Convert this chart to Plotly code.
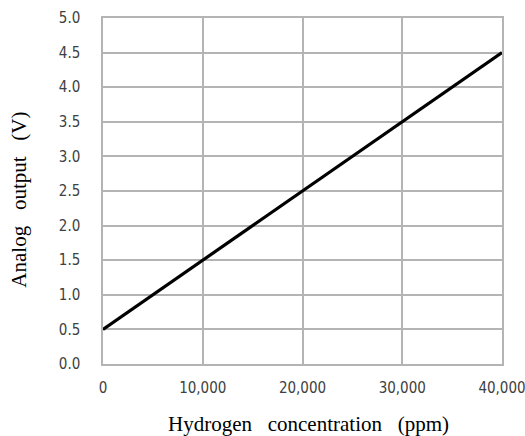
import plotly.graph_objects as go

concentration = [0, 40000]
voltage = [0.5, 4.5]
x_ticks = [0, 10000, 20000, 30000, 40000]
x_labels = ["0", "10,000", "20,000", "30,000", "40,000"]
y_ticks = [i * 0.5 for i in range(11)]
y_labels = ["%.1f" % v for v in y_ticks]
x_title = "Hydrogen&nbsp;&nbsp;&nbsp;concentration&nbsp;&nbsp;&nbsp;(ppm)"
y_title = "Analog&nbsp;&nbsp;&nbsp;output&nbsp;&nbsp;&nbsp;(V)"

tick_font = dict(family="DejaVu Sans Condensed, Liberation Sans Narrow, sans-serif", size=15, color="#404040")
title_font = dict(family="Liberation Serif, Times New Roman, serif", size=21, color="black")

fig = go.Figure(go.Scatter(x=concentration, y=voltage, mode="lines",
                           line=dict(color="black", width=3.2), showlegend=False))

fig.update_layout(
    width=525, height=436,
    margin=dict(l=103, r=23, t=18, b=72, autoexpand=False),
    paper_bgcolor="white", plot_bgcolor="white",
    annotations=[
        dict(text=x_title, xref="paper", yref="paper", x=0.515, y=0, yshift=-60,
             xanchor="center", yanchor="middle", showarrow=False, font=title_font),
        dict(text=y_title, xref="paper", yref="paper", x=0, y=0.475, xshift=-84,
             xanchor="center", yanchor="middle", textangle=-90, showarrow=False, font=title_font),
    ],
)
axis_common = dict(showgrid=True, gridcolor="#b4b4b4", gridwidth=1.5,
                   showline=True, linecolor="#b4b4b4", linewidth=1.5, mirror=True,
                   zeroline=False, ticks="", tickfont=tick_font, automargin=False,
                   fixedrange=True, ticklabeloverflow="allow")
fig.update_xaxes(range=[0, 40000], tickvals=x_ticks, ticktext=x_labels,
                 ticklabelstandoff=9, **axis_common)
fig.update_yaxes(range=[0, 5], tickvals=y_ticks, ticktext=y_labels,
                 ticklabelstandoff=18, **axis_common)

fig.write_html("out.html", config={"displayModeBar": False})

with open("out.html", "r", encoding="utf-8") as f:
    html = f.read()
html = html.replace("<body>", '<body style="margin:0;padding:0;overflow:hidden">', 1)
with open("out.html", "w", encoding="utf-8") as f:
    f.write(html)
